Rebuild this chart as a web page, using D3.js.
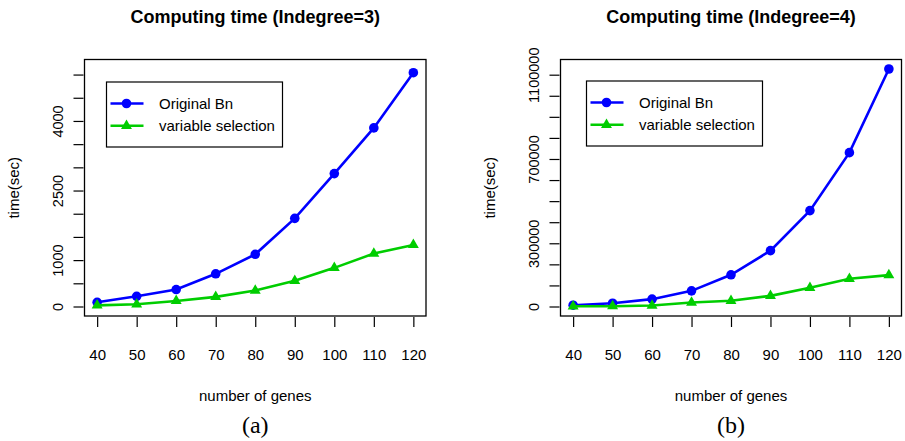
<!DOCTYPE html>
<html>
<head>
<meta charset="utf-8">
<script src="https://cdn.jsdelivr.net/npm/d3@7"></script>
<style>
  body { margin: 0; background: #fff; }
  text { font-family: Arial, "Liberation Sans", sans-serif; fill: #000; }
</style>
</head>
<body>
<script>
// number of genes
var genes = [40, 50, 60, 70, 80, 90, 100, 110, 120];

// panel (a): indegree = 3
var origA = [90, 220, 365, 705, 1125, 1900, 2865, 3850, 5040];
var selA = [25, 48, 120, 208, 345, 553, 833, 1141, 1328];
var yLimA = [0, 5120];
var yTicksA = [0, 500, 1000, 1500, 2000, 2500, 3000, 3500, 4000, 4500, 5000];
var yLabelsA = [0, 1000, 2500, 4000];

// panel (b): indegree = 4
var origB = [6200, 15700, 34800, 74300, 150500, 265000, 455000, 730000, 1127000];
var selB = [1000, 1500, 4800, 19000, 27000, 50500, 88600, 131400, 149000];
var yLimB = [0, 1127000];
var yTicksB = [0, 100000, 200000, 300000, 400000, 500000, 600000, 700000, 800000, 900000, 1000000, 1100000];
var yLabelsB = [0, 300000, 700000, 1100000];

var seriesNames = ["Original Bn", "variable selection"];
var colors = ["#0000ff", "#00cd00"];

var svgWidth = 905;
var svgHeight = 441;

var svg = d3.select("body")
    .append("svg")
    .attr("width", svgWidth)
    .attr("height", svgHeight);

var panels = [
    {title: "Computing time (Indegree=3)", tag: "(a)", orig: origA, sel: selA,
     lim: yLimA, ticks: yTicksA, labels: yLabelsA,
     left: 84.5, right: 426, top: 59.5, bottom: 316,
     legend: {x: 106.5, y: 82, w: 176, h: 65}},
    {title: "Computing time (Indegree=4)", tag: "(b)", orig: origB, sel: selB,
     lim: yLimB, ticks: yTicksB, labels: yLabelsB,
     left: 560.5, right: 901.5, top: 59.5, bottom: 316,
     legend: {x: 586.5, y: 81, w: 176, h: 65}}
];

panels.forEach(function (p) {
    var g = svg.append("g");

    // R style: 4% padding on both axes
    var xPad = (d3.max(genes) - d3.min(genes)) * 0.04;
    var x = d3.scaleLinear()
        .domain([d3.min(genes) - xPad, d3.max(genes) + xPad])
        .range([p.left, p.right]);

    var yPad = (p.lim[1] - p.lim[0]) * 0.04;
    var y = d3.scaleLinear()
        .domain([p.lim[0] - yPad, p.lim[1] + yPad])
        .range([p.bottom, p.top]);

    var midX = (p.left + p.right) / 2;

    // title
    g.append("text")
        .attr("x", midX)
        .attr("y", 23)
        .attr("text-anchor", "middle")
        .style("font-size", "18px")
        .style("font-weight", "bold")
        .text(p.title);

    // plot box
    g.append("rect")
        .attr("x", p.left)
        .attr("y", p.top)
        .attr("width", p.right - p.left)
        .attr("height", p.bottom - p.top)
        .attr("fill", "none")
        .attr("stroke", "#000")
        .attr("stroke-width", 1.3);

    // x axis (ticks sit a little below the box)
    var xAxis = d3.axisBottom(x)
        .tickValues(genes)
        .tickSize(10)
        .tickPadding(22)
        .tickSizeOuter(0);
    var xg = g.append("g")
        .attr("transform", "translate(0," + (p.bottom + 1) + ")")
        .call(xAxis);
    xg.select(".domain").remove();
    xg.selectAll("line").attr("stroke-width", 1.2);
    xg.selectAll("text")
        .attr("font-family", null)
        .style("font-size", "15px")
        .attr("fill", "#000");

    // y axis with rotated labels, only some labeled
    var yAxis = d3.axisLeft(y)
        .tickValues(p.ticks)
        .tickSize(10)
        .tickSizeOuter(0)
        .tickFormat(function (d) { return p.labels.indexOf(d) >= 0 ? d : ""; });
    var yg = g.append("g")
        .attr("transform", "translate(" + (p.left - 1) + ",0)")
        .call(yAxis);
    yg.select(".domain").remove();
    yg.selectAll("line").attr("stroke-width", 1.2);
    yg.selectAll("text")
        .attr("font-family", null)
        .attr("x", null)
        .attr("dy", null)
        .attr("text-anchor", "middle")
        .attr("transform", "translate(-21,0) rotate(-90)")
        .style("font-size", "14.5px")
        .attr("fill", "#000");

    // axis titles
    g.append("text")
        .attr("x", midX)
        .attr("y", 401)
        .attr("text-anchor", "middle")
        .style("font-size", "15px")
        .text("number of genes");

    g.append("text")
        .attr("transform", "translate(" + (p.left - 65.5) + "," + ((p.top + p.bottom) / 2) + ") rotate(-90)")
        .attr("text-anchor", "middle")
        .style("font-size", "15px")
        .text("time(sec)");

    g.append("text")
        .attr("x", midX)
        .attr("y", 433)
        .attr("text-anchor", "middle")
        .style("font-family", "'Liberation Serif', 'Times New Roman', serif")
        .style("font-size", "24px")
        .text(p.tag);

    var line = d3.line()
        .x(function (d, i) { return x(genes[i]); })
        .y(function (d) { return y(d); });

    var tri = d3.symbol().type(d3.symbolTriangle).size(52);

    [p.orig, p.sel].forEach(function (vals, k) {
        g.append("path")
            .datum(vals)
            .attr("d", line)
            .attr("fill", "none")
            .attr("stroke", colors[k])
            .attr("stroke-width", 2.6);

        if (k === 0) {
            g.selectAll(null)
                .data(vals)
                .enter()
                .append("circle")
                .attr("cx", function (d, i) { return x(genes[i]); })
                .attr("cy", function (d) { return y(d); })
                .attr("r", 4.8)
                .attr("fill", colors[k]);
        } else {
            g.selectAll(null)
                .data(vals)
                .enter()
                .append("path")
                .attr("d", tri)
                .attr("transform", function (d, i) { return "translate(" + x(genes[i]) + "," + y(d) + ")"; })
                .attr("fill", colors[k]);
        }
    });

    // legend
    var lg = g.append("g");
    lg.append("rect")
        .attr("x", p.legend.x)
        .attr("y", p.legend.y)
        .attr("width", p.legend.w)
        .attr("height", p.legend.h)
        .attr("fill", "#fff")
        .attr("stroke", "#000")
        .attr("stroke-width", 1.2);

    seriesNames.forEach(function (name, k) {
        var ry = p.legend.y + 21.5 + k * 22.3;
        var lx = p.legend.x + 4;
        lg.append("line")
            .attr("x1", lx)
            .attr("x2", lx + 33)
            .attr("y1", ry)
            .attr("y2", ry)
            .attr("stroke", colors[k])
            .attr("stroke-width", 2.6);
        if (k === 0) {
            lg.append("circle")
                .attr("cx", lx + 16)
                .attr("cy", ry)
                .attr("r", 4.8)
                .attr("fill", colors[k]);
        } else {
            lg.append("path")
                .attr("d", tri)
                .attr("transform", "translate(" + (lx + 16) + "," + ry + ")")
                .attr("fill", colors[k]);
        }
        lg.append("text")
            .attr("x", p.legend.x + 52.5)
            .attr("y", ry + 5.3)
            .style("font-size", "15px")
            .text(name);
    });
});
</script>
</body>
</html>
